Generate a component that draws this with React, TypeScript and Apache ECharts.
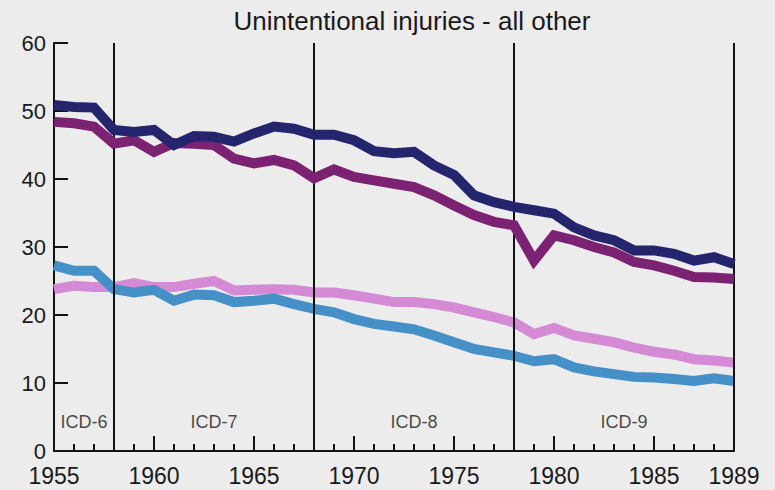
import React, { useEffect, useRef } from "react";
import * as echarts from "echarts";

const startYear = 1955;
const endYear = 1989;
const titleText = "Unintentional injuries - all other";

const navySeries = [50.9, 50.6, 50.5, 47.2, 46.9, 47.2, 45.0, 46.3, 46.2, 45.5, 46.7, 47.7, 47.4, 46.5, 46.5, 45.7, 44.1, 43.8, 44.0, 42.0, 40.6, 37.6, 36.6, 35.9, 35.4, 34.9, 32.9, 31.7, 31.0, 29.5, 29.5, 29.0, 28.0, 28.5, 27.5];
const purpleSeries = [48.4, 48.2, 47.7, 45.2, 45.7, 44.0, 45.3, 45.2, 45.0, 43.0, 42.3, 42.8, 42.0, 40.1, 41.4, 40.3, 39.8, 39.3, 38.8, 37.6, 36.1, 34.7, 33.7, 33.2, 28.0, 31.7, 31.0, 30.0, 29.2, 27.8, 27.3, 26.5, 25.6, 25.5, 25.3];
const pinkSeries = [23.8, 24.3, 24.1, 24.1, 24.7, 24.1, 24.1, 24.6, 25.0, 23.6, 23.7, 23.8, 23.7, 23.3, 23.3, 22.9, 22.4, 21.9, 21.9, 21.6, 21.1, 20.4, 19.7, 18.9, 17.2, 18.1, 17.0, 16.5, 16.0, 15.2, 14.6, 14.2, 13.5, 13.3, 13.0];
const blueSeries = [27.3, 26.5, 26.5, 23.8, 23.3, 23.7, 22.1, 23.0, 22.9, 21.9, 22.1, 22.4, 21.6, 20.9, 20.4, 19.4, 18.7, 18.3, 17.9, 17.0, 16.0, 15.0, 14.5, 14.0, 13.2, 13.5, 12.3, 11.7, 11.3, 10.9, 10.8, 10.6, 10.3, 10.7, 10.3];

const icdBoundaries = [1958, 1968, 1978, 1989];
const icdNames = ["ICD-6", "ICD-7", "ICD-8", "ICD-9"];
const icdCenters = [1956.5, 1963, 1973, 1983.5];
const icdLabelLevel = 4.3;

const FONT = "'Liberation Sans', Arial, sans-serif";

function toPairs(values: number[]) {
  return values.map((v, i) => [startYear + i, v]);
}

export default function App() {
  const ref = useRef<HTMLDivElement>(null);
  useEffect(() => {
    if (!ref.current) return;
    const chart = echarts.init(ref.current, undefined, { renderer: "svg" });
    const lineSeries = (name: string, data: number[], color: string, z: number) => ({
      name,
      type: "line",
      data: toPairs(data),
      showSymbol: false,
      symbol: "none",
      z,
      lineStyle: { color, width: 10, join: "miter", cap: "butt" },
    });
    chart.setOption({
      animation: false,
      backgroundColor: "#ececec",
      title: {
        text: titleText,
        left: 412,
        top: 8,
        padding: 0,
        textAlign: "center",
        textStyle: { fontFamily: FONT, fontSize: 26, fontWeight: "normal", color: "#1a1a1a" },
      },
      grid: { left: 54, right: 41, top: 43, bottom: 39, containLabel: false },
      xAxis: [
        {
          type: "value",
          min: startYear,
          max: endYear,
          interval: 5,
          position: "bottom",
          splitLine: { show: false },
          axisLine: { show: true, lineStyle: { color: "#111", width: 2 } },
          axisTick: { show: true, inside: true, length: 15, lineStyle: { color: "#111", width: 2 } },
          axisLabel: {
            fontFamily: FONT,
            fontSize: 23,
            color: "#1a1a1a",
            margin: 13,
            showMaxLabel: true,
            formatter: (v: number) => String(v),
          },
        },
        {
          type: "value",
          min: startYear,
          max: endYear,
          interval: 1,
          position: "bottom",
          offset: 0,
          splitLine: { show: false },
          axisLine: { show: false },
          axisTick: { show: true, inside: true, length: 7, lineStyle: { color: "#111", width: 2 } },
          axisLabel: { show: false },
        },
      ],
      yAxis: {
        type: "value",
        min: 0,
        max: 60,
        interval: 10,
        splitLine: { show: false },
        axisLine: { show: true, lineStyle: { color: "#111", width: 2 } },
        axisTick: { show: true, inside: true, length: 14, lineStyle: { color: "#111", width: 2 } },
        axisLabel: { fontFamily: FONT, fontSize: 22, color: "#1a1a1a", margin: 8 },
      },
      series: [
        {
          name: "icd",
          type: "scatter",
          z: 1,
          symbolSize: 0,
          data: icdNames.map((n, i) => ({ name: n, value: [icdCenters[i], icdLabelLevel] })),
          label: {
            show: true,
            position: "inside",
            formatter: (p: any) => p.name,
            fontFamily: FONT,
            fontSize: 18,
            color: "#1a1a1a",
          },
          markLine: {
            silent: true,
            symbol: ["none", "none"],
            label: { show: false },
            lineStyle: { color: "#111", width: 2, type: "solid" },
            data: icdBoundaries.map((y) => ({ xAxis: y })),
          },
        },
        lineSeries("pink", pinkSeries, "#d48ad4", 3),
        lineSeries("blue", blueSeries, "#4590c6", 4),
        lineSeries("purple", purpleSeries, "#7c2273", 5),
        lineSeries("navy", navySeries, "#25256e", 6),
      ],
    });
    return () => chart.dispose();
  }, []);
  return (
    <div
      ref={ref}
      style={{ position: "fixed", left: 0, top: 0, width: 775, height: 490 }}
    />
  );
}
